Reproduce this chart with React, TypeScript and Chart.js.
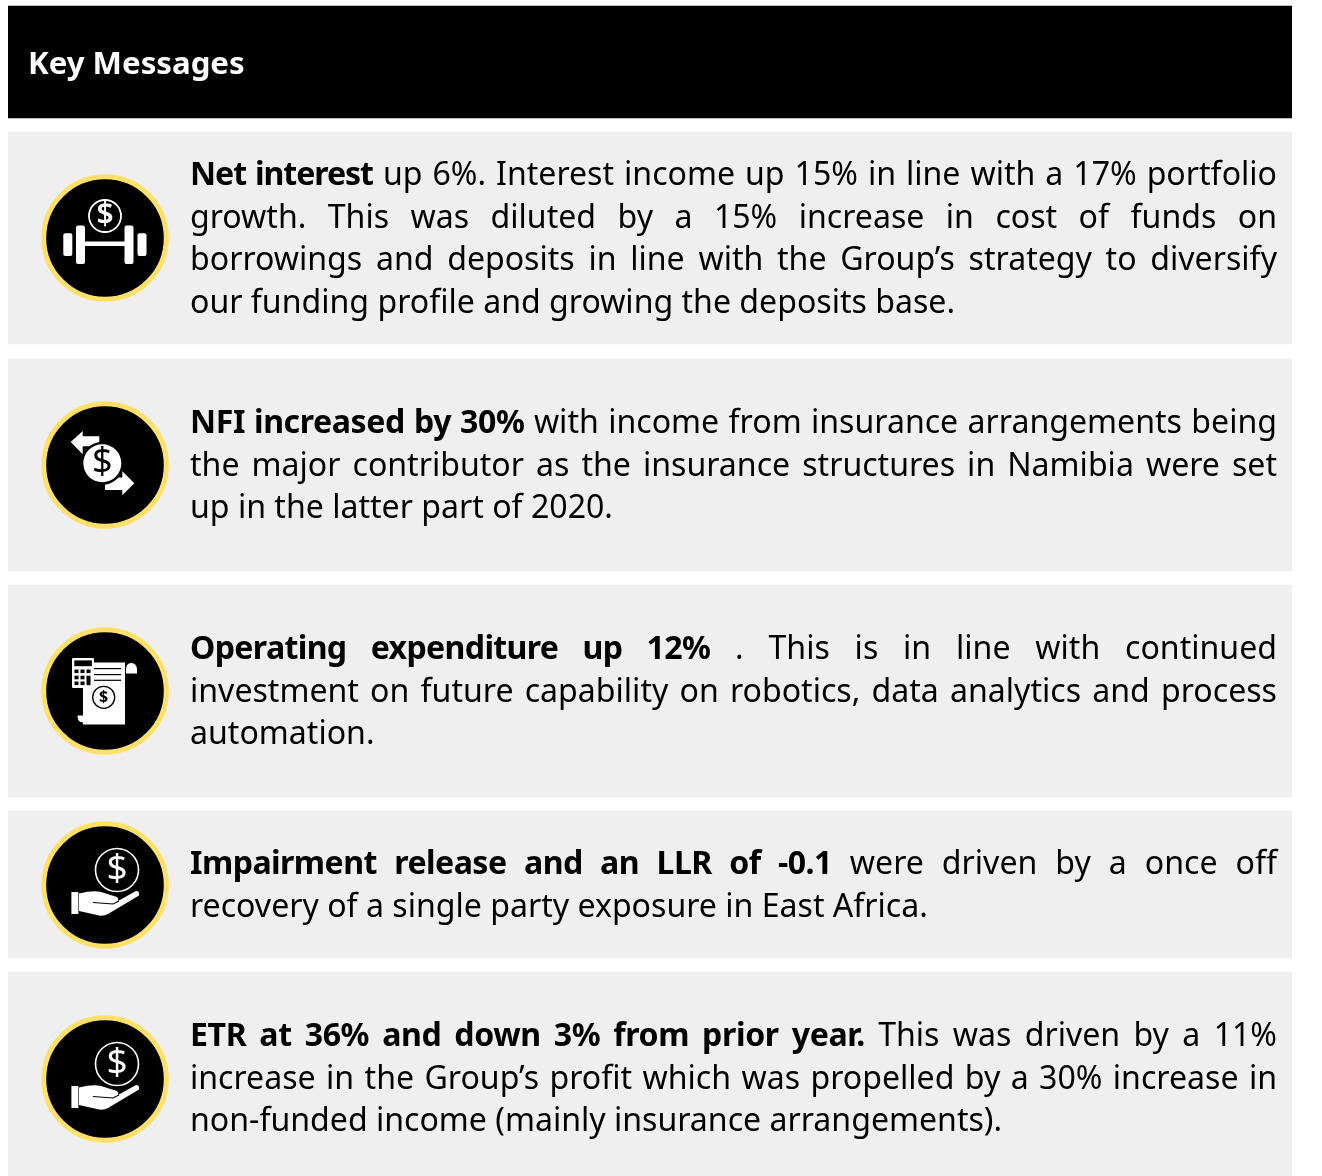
import React, { useEffect, useRef } from "react";
import { Chart, registerables } from "chart.js";

Chart.register(...registerables);

const panelNames = ["header", "net interest", "NFI", "opex", "impairment", "ETR"];
const panelTop = [6, 132, 359, 585, 811, 972];
const panelBottom = [118, 344, 571, 797, 958, 1176];
const badgeColumn = [105, 105, 105, 105, 105];
const badgeCentre = [238, 465, 691, 885, 1079];
const badgeIcons = ["barbell", "exchange", "receipt", "hand", "hand"];

const headerText = "Key Messages";
const firstLines = [173, 421, 647, 862, 1034];
const boldTracking = [-1.05, -0.4, -0.65, -0.55, -0.38];
const messages: { bold: string; lines: string[] }[] = [
  {
    bold: "Net interest",
    lines: [
      " up 6%. Interest income up 15% in line with a 17% portfolio",
      "growth. This was diluted by a 15% increase in cost of funds on",
      "borrowings and deposits in line with the Group’s strategy to diversify",
      "our funding profile and growing the deposits base.",
    ],
  },
  {
    bold: "NFI increased by 30%",
    lines: [
      " with income from insurance arrangements being",
      "the major contributor as the insurance structures in Namibia were set",
      "up in the latter part of 2020.",
    ],
  },
  {
    bold: "Operating expenditure up 12%",
    lines: [
      " . This is in line with continued",
      "investment on future capability on robotics, data analytics and process",
      "automation.",
    ],
  },
  {
    bold: "Impairment release and an LLR of -0.1",
    lines: [" were driven by a once off", "recovery of a single party exposure in East Africa."],
  },
  {
    bold: "ETR at 36% and down 3% from prior year.",
    lines: [
      " This was driven by a 11%",
      "increase in the Group’s profit which was propelled by a 30% increase in",
      "non-funded income (mainly insurance arrangements).",
    ],
  },
];

const FONT = '"Noto Sans", sans-serif';
const YELLOW = "#FFE169";
const PANEL = "#EFEFEF";
const LINE_STEP = 42.7;

function rr(c: CanvasRenderingContext2D, x0: number, y0: number, x1: number, y1: number, r: number) {
  c.beginPath();
  c.roundRect(x0, y0, x1 - x0, y1 - y0, r);
  c.fill();
}
function poly(c: CanvasRenderingContext2D, pts: number[][]) {
  c.beginPath();
  pts.forEach((p, i) => (i ? c.lineTo(p[0], p[1]) : c.moveTo(p[0], p[1])));
  c.closePath();
  c.fill();
}
function dollar(c: CanvasRenderingContext2D, x: number, y: number, size: number, weight: number, color: string) {
  c.fillStyle = color;
  c.font = `${weight} ${size}px ${FONT}`;
  c.textAlign = "center";
  c.textBaseline = "middle";
  c.fillText("$", x, y);
}
function ring(c: CanvasRenderingContext2D, x: number, y: number, r: number, lw: number, color: string) {
  c.strokeStyle = color;
  c.lineWidth = lw;
  c.beginPath();
  c.arc(x, y, r, 0, Math.PI * 2);
  c.stroke();
}

const icons: Record<string, (c: CanvasRenderingContext2D) => void> = {
  barbell(c) {
    ring(c, 0, -22, 16, 1.8, "#fff");
    dollar(c, 0, -23, 30, 600, "#fff");
    c.fillStyle = "#fff";
    rr(c, -41.7, -4.7, -32.7, 18, 2);
    rr(c, -29, -12.6, -20, 26, 2);
    rr(c, 19.5, -12.6, 28.5, 26, 2);
    rr(c, 32.5, -4.7, 41.5, 18, 2);
    c.fillRect(-21, 3.5, 41, 4.5);
  },
  exchange(c) {
    c.fillStyle = "#fff";
    poly(c, [[-34.3, -23], [-22.3, -34], [-22.3, -28.7], [-5.7, -28.7], [-5.7, -18.7], [-22.3, -18.7], [-22.3, -10.7]]);
    poly(c, [[29.3, 18.3], [17.3, 6.3], [17.3, 12.5], [0, 12.5], [0, 25], [17.3, 25], [17.3, 30.3]]);
    c.fillStyle = "#000";
    c.beginPath();
    c.arc(-2.7, -1.7, 21.5, 0, Math.PI * 2);
    c.fill();
    c.fillStyle = "#fff";
    c.beginPath();
    c.arc(-2.7, -1.7, 19, 0, Math.PI * 2);
    c.fill();
    dollar(c, -2.7, -2.5, 36, 400, "#000");
  },
  receipt(c) {
    c.fillStyle = "#fff";
    c.fillRect(-22, -28.5, 42, 62);
    c.beginPath();
    c.moveTo(-27.5, 24.5);
    c.lineTo(8, 24.5);
    c.lineTo(8, 31);
    c.quadraticCurveTo(9, 31, 10, 31.5);
    c.lineTo(-22, 31.5);
    c.quadraticCurveTo(-27.5, 31.5, -27.5, 24.5);
    c.fill();
    c.beginPath();
    c.arc(14, 27, 5.5, 0, Math.PI);
    c.lineTo(8.5, 20);
    c.lineTo(19.5, 20);
    c.fill();
    c.beginPath();
    c.moveTo(21, -17.5);
    c.lineTo(32, -17.5);
    c.lineTo(32, -21);
    c.quadraticCurveTo(32, -28, 26, -28);
    c.quadraticCurveTo(21, -28, 21, -21);
    c.fill();
    c.fillStyle = "#000";
    c.fillRect(-12, -23, 28, 1.2);
    c.fillRect(-12, -17, 28, 1.2);
    c.fillRect(-12, -11.3, 28, 1.2);
    ring(c, -1.3, 6.3, 11, 1.3, "#000");
    dollar(c, -1.3, 6, 16, 700, "#000");
    c.fillStyle = "#fff";
    rr(c, -33, -33, -11, -3, 1);
    c.fillStyle = "#000";
    c.fillRect(-30.7, -30.6, 17.6, 5.8);
    const keyX = [-30.5, -24.5, -18.5];
    const keyY = [-21.5, -15.3, -9.5];
    keyY.forEach((y, r) =>
      keyX.forEach((x, k) => {
        if (k === 2 && r > 0) return;
        c.fillRect(x, y, 4, 3.6);
      })
    );
    c.fillRect(-18.5, -15.3, 4, 9.5);
  },
  hand(c) {
    ring(c, 12, -15, 21.5, 1.6, "#fff");
    dollar(c, 12, -16, 37, 400, "#fff");
    c.fillStyle = "#fff";
    c.fillRect(-33.6, 7, 7, 22);
    c.beginPath();
    c.moveTo(-26, 8.5);
    c.quadraticCurveTo(-12, 5, -4, 7);
    c.lineTo(12, 12);
    c.quadraticCurveTo(14, 14, 13, 16);
    c.lineTo(31, 6);
    c.quadraticCurveTo(35, 6, 34, 10.5);
    c.lineTo(3, 29);
    c.quadraticCurveTo(-2, 32, -8, 30);
    c.lineTo(-26, 26);
    c.closePath();
    c.fill();
    c.strokeStyle = "#000";
    c.lineWidth = 1.2;
    c.beginPath();
    c.moveTo(-12, 17.5);
    c.lineTo(8, 19);
    c.lineTo(14, 16);
    c.stroke();
  },
};

const iconPlugin = {
  id: "badgeIcons",
  afterDatasetsDraw(chart: any) {
    const index = chart.data.datasets.findIndex((d: any) => d.type === "scatter");
    const meta = chart.getDatasetMeta(index);
    const c = chart.ctx as CanvasRenderingContext2D;
    meta.data.forEach((pt: any, i: number) => {
      c.save();
      c.translate(pt.x, pt.y);
      icons[badgeIcons[i]](c);
      c.restore();
    });
  },
};

export default function App() {
  const ref = useRef<HTMLCanvasElement>(null);
  useEffect(() => {
    const chart = new Chart(ref.current!, {
      type: "bar",
      data: {
        labels: ["panels"],
        datasets: [
          {
            type: "scatter",
            label: "badges",
            xAxisID: "x2",
            yAxisID: "y",
            order: 0,
            data: badgeCentre.map((y, i) => ({ x: badgeColumn[i], y })),
            pointRadius: 61.3,
            pointBorderWidth: 5,
            pointBackgroundColor: "#000",
            pointBorderColor: YELLOW,
          },
          ...panelNames.map((label, i) => ({
            type: "bar",
            label,
            xAxisID: "x",
            yAxisID: "y",
            order: 1,
            data: [[panelTop[i], panelBottom[i]]],
            backgroundColor: i === 0 ? "#000" : PANEL,
            barPercentage: 1,
            categoryPercentage: 1,
            grouped: false,
          })),
        ] as any,
      },
      options: {
        animation: false,
        responsive: false,
        layout: { autoPadding: false, padding: { left: 8, right: 30, top: 0, bottom: 0 } },
        plugins: { legend: { display: false }, title: { display: false }, tooltip: { enabled: false } },
        scales: {
          x: { display: false, type: "category" },
          x2: { display: false, type: "linear", min: 8, max: 1292, offset: false },
          y: { display: false, type: "linear", min: 0, max: 1176, reverse: true, offset: false },
        },
      } as any,
      plugins: [iconPlugin],
    });
    return () => chart.destroy();
  }, []);

  const textLine = (top: number, justify: boolean, children: React.ReactNode, key: string) => (
    <div
      key={key}
      style={{
        position: "absolute",
        left: 190,
        top: top - 22,
        width: 1087,
        height: 44,
        lineHeight: "44px",
        fontFamily: FONT,
        fontSize: 32.1,
        color: "#000",
        textAlign: justify ? "justify" : "left",
        textAlignLast: justify ? "justify" : "left",
        whiteSpace: "pre-wrap",
      }}
    >
      {children}
    </div>
  );

  return (
    <div style={{ position: "absolute", left: 0, top: 0, width: 1322, height: 1176, overflow: "hidden", background: "#fff" }}>
      <canvas ref={ref} width={1322} height={1176} style={{ display: "block" }} />
      <div
        style={{
          position: "absolute",
          left: 28,
          top: 40,
          lineHeight: "44px",
          fontFamily: FONT,
          fontWeight: 700,
          fontSize: 31.2,
          color: "#fff",
        }}
      >
        {headerText}
      </div>
      {messages.flatMap((m, i) =>
        m.lines.map((line, j) =>
          textLine(
            firstLines[i] + j * LINE_STEP,
            j < m.lines.length - 1,
            j === 0 ? (
              <>
                <b style={{ letterSpacing: boldTracking[i] }}>{m.bold}</b>
                {line}
              </>
            ) : (
              line
            ),
            `${i}-${j}`
          )
        )
      )}
    </div>
  );
}
